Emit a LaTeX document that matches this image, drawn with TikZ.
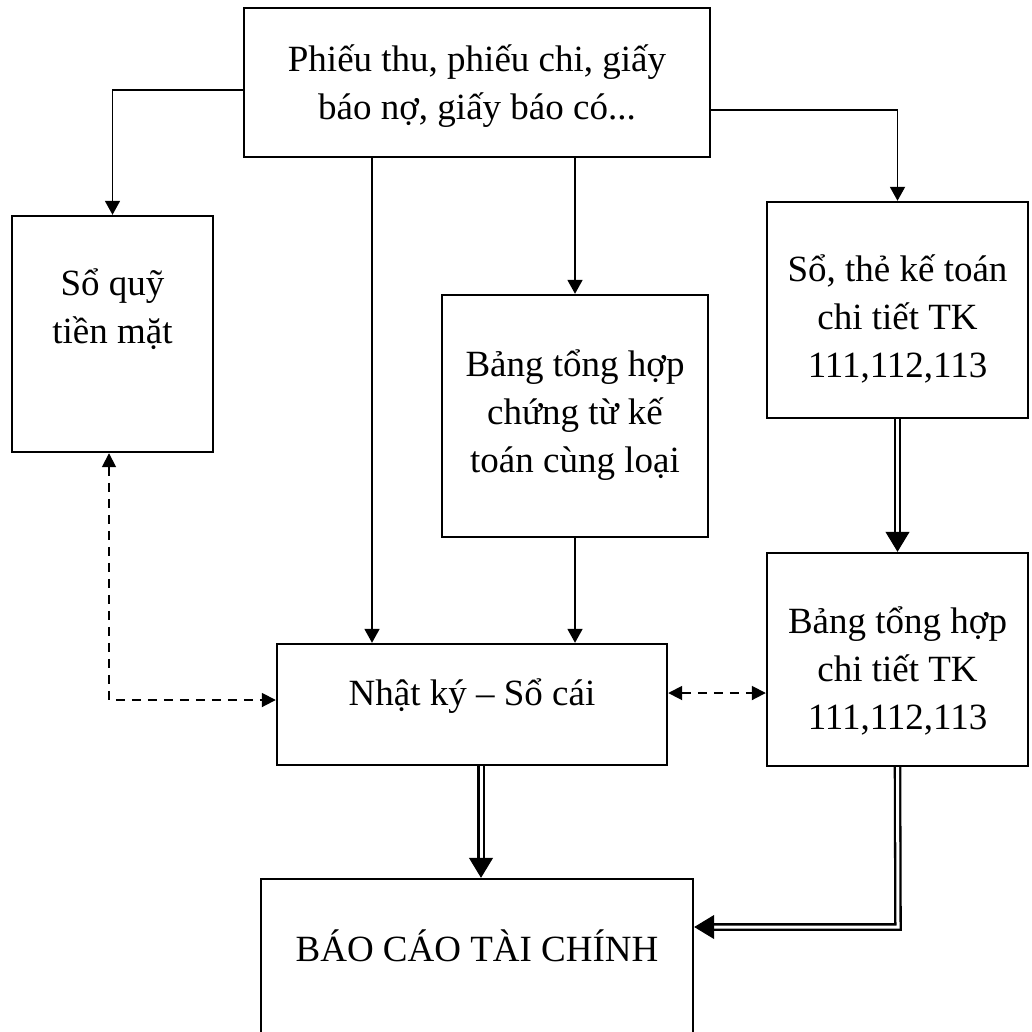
\documentclass[tikz,border=0pt]{standalone}
\usepackage{fontspec}
\setmainfont{Liberation Serif}
\usetikzlibrary{arrows.meta,calc}
\begin{document}
\begin{tikzpicture}[x=1pt,y=-1pt,
  box/.style={draw, line width=2.4pt, inner sep=0pt},
  txt/.style={align=center, font=\fontsize{37}{48}\selectfont, inner sep=0pt},
  arr/.style={line width=1.8pt, -{Triangle[length=14pt,width=15pt]}},
  dsh/.style={line width=1.8pt, dash pattern=on 9pt off 7pt},
  dshtip/.style={{Triangle[length=14pt,width=14pt]}-{Triangle[length=14pt,width=14pt]}},
  dbl/.style={line width=2.3pt, double, double distance=3pt, line join=miter},
  dtip/.style={line width=1pt, -{Triangle[length=20pt,width=24pt]}}]

\useasboundingbox (0,0) rectangle (1032,1031);

% boxes
\node[box, minimum width=466pt, minimum height=149pt] (top) at (477,82.5) {};
\node[txt] (topT) at (477,86) {Phiếu thu, phiếu chi, giấy\\báo nợ, giấy báo có...};

\node[box, minimum width=201pt, minimum height=236pt] (quy) at (112.5,334) {};
\node[txt] (quyT) at (112.5,309) {Sổ quỹ\\tiền mặt};

\node[box, minimum width=266pt, minimum height=242pt] (ct) at (575,416) {};
\node[txt] (ctT) at (575,415) {Bảng tổng hợp\\chứng từ kế\\toán cùng loại};

\node[box, minimum width=261pt, minimum height=216pt] (the) at (897.5,310) {};
\node[txt] (theT) at (897.5,319) {Sổ, thẻ kế toán\\chi tiết TK\\111,112,113};

\node[box, minimum width=261pt, minimum height=213pt] (ctt) at (897.5,659.5) {};
\node[txt] (cttT) at (897.5,671) {Bảng tổng hợp\\chi tiết TK\\111,112,113};

\node[box, minimum width=390pt, minimum height=121pt] (nk) at (472,704.5) {};
\node[txt] (nkT) at (472,696) {Nhật ký – Sổ cái};

\node[box, minimum width=432pt, minimum height=180pt] (bc) at (477,969) {};
\node[txt] (bcT) at (477,946) {BÁO CÁO TÀI CHÍNH};

% coordinates
\coordinate (tL) at (244,90);
\coordinate (tR) at (710,110);
\coordinate (cB) at (898,927);

% single arrows
\draw[arr] (tL) -| (quy.north);
\draw[arr] (tR) -| (the.north);
\draw[arr] (top.south -| 372,0) -- (nk.north -| 372,0);
\draw[arr] (top.south -| ct.north) -- (ct.north);
\draw[arr] (ct.south) -- (nk.north -| ct.south);

% dashed
\draw[dsh, dshtip] (quy.south -| 109,0) -- (109,700) -- (nk.west |- 0,700);
\draw[dsh, dshtip] (nk.east |- 0,693) -- (ctt.west |- 0,693);

% double arrows
\draw[dbl] (the.south) -- ($(ctt.north)+(0,-18)$);
\draw[dtip] ($(ctt.north)+(0,-19)$) -- (ctt.north);

\draw[dbl] (nk.south -| 481,0) -- ($(bc.north -| 481,0)+(0,-18)$);
\draw[dtip] ($(bc.north -| 481,0)+(0,-19)$) -- (bc.north -| 481,0);

\draw[dbl] (ctt.south) -- (cB) -- ($(bc.east |- cB)+(18,0)$);
\draw[dtip] ($(bc.east |- cB)+(19,0)$) -- (bc.east |- cB);
\end{tikzpicture}
\end{document}
